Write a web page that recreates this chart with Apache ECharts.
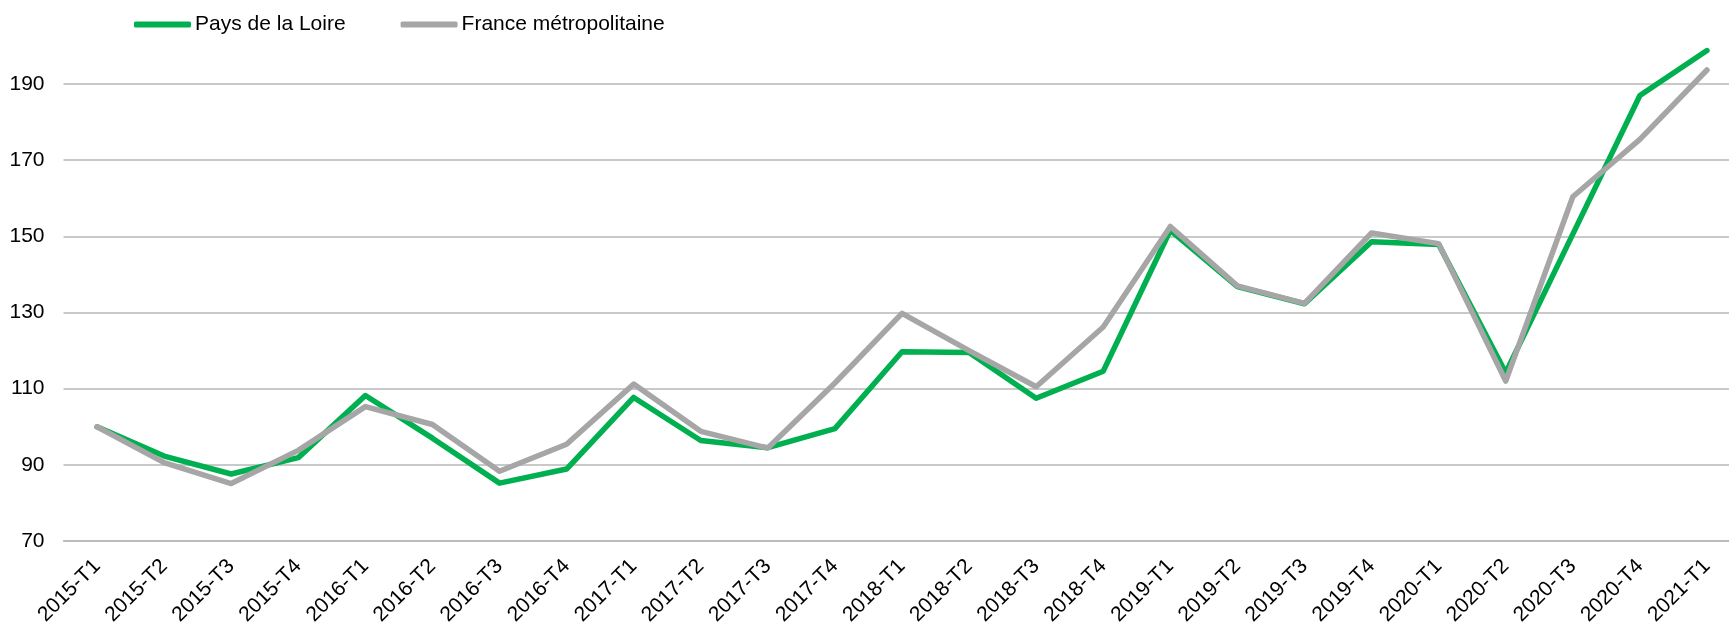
<!DOCTYPE html>
<html>
<head>
<meta charset="utf-8">
<script src="https://cdn.jsdelivr.net/npm/echarts@6/dist/echarts.min.js"></script>
<style>
  html, body { margin: 0; padding: 0; background: #fff; }
  #chart { width: 1729px; height: 624px; }
</style>
</head>
<body>
<div id="chart"></div>
<script>
// trimestres
const categories = [
  '2015-T1', '2015-T2', '2015-T3', '2015-T4',
  '2016-T1', '2016-T2', '2016-T3', '2016-T4',
  '2017-T1', '2017-T2', '2017-T3', '2017-T4',
  '2018-T1', '2018-T2', '2018-T3', '2018-T4',
  '2019-T1', '2019-T2', '2019-T3', '2019-T4',
  '2020-T1', '2020-T2', '2020-T3', '2020-T4',
  '2021-T1'
]
const paysDeLaLoire = [
  100, 92.3, 87.6, 91.9,
  108.2, 97.0, 85.2, 88.9,
  107.7, 96.4, 94.5, 99.5,
  119.7, 119.5, 107.5, 114.6,
  151.6, 136.8, 132.3, 148.6,
  147.9, 114.2, 150.6, 187.0,
  198.8
]
const franceMetro = [
  100, 90.6, 85.1, 93.8,
  105.3, 100.6, 88.3, 95.4,
  111.2, 98.8, 94.4, 111.5,
  129.8, 120.0, 110.5, 126.2,
  152.6, 137.0, 132.4, 150.9,
  148.1, 112.0, 160.4, 175.5,
  193.7
]
const yTicks = { min: 70, max: 200, interval: 20 }

const font = 'Liberation Sans, Arial, sans-serif'
const chart = echarts.init(document.getElementById('chart'))

const option = {
  animation: false,
  backgroundColor: '#fff',
  legend: {
    left: 129,
    top: 9,
    itemWidth: 57,
    itemHeight: 6,
    itemGap: 55,
    icon: 'roundRect',
    textStyle: { fontFamily: font, fontSize: 21, color: '#000', padding: [0, 0, 0, -1] },
    data: ['Pays de la Loire', 'France métropolitaine']
  },
  grid: {
    left: 63.5,
    top: 46,
    width: 1677,
    bottom: 83,
    containLabel: false,
    outerBoundsMode: 'none'
  },
  xAxis: {
    type: 'category',
    data: categories,
    boundaryGap: true,
    axisLine: { show: true, lineStyle: { color: '#b7b7b7', width: 1.5 } },
    axisTick: { show: false },
    axisLabel: {
      rotate: 45,
      interval: 0,
      margin: 22,
      fontFamily: font,
      fontSize: 21,
      color: '#000'
    }
  },
  yAxis: {
    type: 'value',
    min: yTicks.min,
    max: yTicks.max,
    interval: yTicks.interval,
    axisLine: { show: false },
    axisTick: { show: false },
    axisLabel: {
      showMaxLabel: false,
      margin: 19,
      fontFamily: font,
      fontSize: 21,
      color: '#000'
    },
    splitLine: {
      showMaxLine: false,
      lineStyle: { color: '#b7b7b7', width: 1.5 }
    }
  },
  series: [
    {
      name: 'Pays de la Loire',
      type: 'line',
      data: paysDeLaLoire,
      showSymbol: false,
      symbol: 'none',
      color: '#00b050',
      lineStyle: { color: '#00b050', width: 5.5, cap: 'round', join: 'round' }
    },
    {
      name: 'France métropolitaine',
      type: 'line',
      data: franceMetro,
      showSymbol: false,
      symbol: 'none',
      color: '#a6a6a6',
      lineStyle: { color: '#a6a6a6', width: 5.5, cap: 'round', join: 'round' }
    }
  ]
}

chart.setOption(option)
</script>
</body>
</html>
